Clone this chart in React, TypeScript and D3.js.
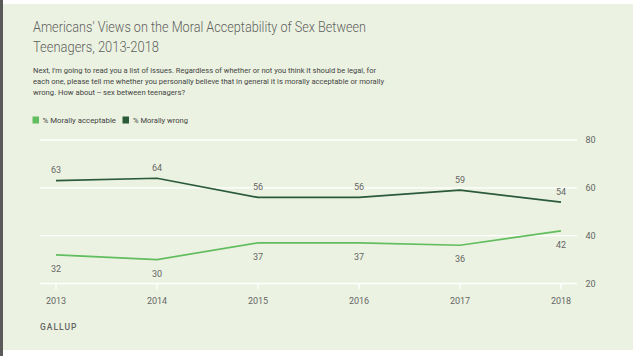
import React from "react";
import * as d3 from "d3";

const years = [2013, 2014, 2015, 2016, 2017, 2018];
const acceptable = [32, 30, 37, 37, 36, 42];
const wrong = [63, 64, 56, 56, 59, 54];
const yTicks = [20, 40, 60, 80];
const seriesNames = ["% Morally acceptable", "% Morally wrong"];
const title = [
  "Americans' Views on the Moral Acceptability of Sex Between",
  "Teenagers, 2013-2018",
];
const subtitle = [
  "Next, I'm going to read you a list of issues. Regardless of whether or not you think it should be legal, for",
  "each one, please tell me whether you personally believe that in general it is morally acceptable or morally",
  "wrong. How about -- sex between teenagers?",
];

const W = 633;
const H = 356;
const BG = "#ebf2e1";
const LIGHT = "#62bd5e";
const DARK = "#2b5a39";
const TXT = "#666";
const FONT = "Roboto, 'Open Sans', sans-serif";

export default function App() {
  const x = d3.scalePoint<number>().domain(years).range([56, 561]);
  const y = d3.scaleLinear().domain([20, 80]).range([283.5, 140]);
  const line = d3
    .line<number>()
    .x((_, i) => x(years[i]) as number)
    .y((d) => y(d));

  return (
    <svg
      width={W}
      height={H}
      style={{ position: "absolute", left: 0, top: 0, display: "block" }}
      fontFamily={FONT}
    >
      <rect x={0} y={0} width={W} height={H} fill="#fff" />
      <rect x={0} y={4} width={W} height={346} fill={BG} />
      <rect x={0} y={0} width={3} height={H} fill="#5a5a5a" />

      {title.map((t, i) => (
        <text
          key={i}
          x={33}
          y={31.5 + i * 20}
          fontSize={15.5}
          fill="#5f5f5f"
          fontWeight={300}
          textLength={i === 0 ? 333 : 126}
          lengthAdjust="spacingAndGlyphs"
        >
          {t}
        </text>
      ))}
      {subtitle.map((t, i) => (
        <text
          key={i}
          x={33}
          y={73 + i * 10.8}
          fontSize={7.8}
          fill="#444"
          textLength={i === 0 ? 343 : i === 1 ? 351 : 152}
          lengthAdjust="spacingAndGlyphs"
        >
          {t}
        </text>
      ))}

      {/* legend */}
      <rect x={32.5} y={116.5} width={6.5} height={7} fill={LIGHT} />
      <text x={42.5} y={123} fontSize={7.6} fill="#444" textLength={73.5} lengthAdjust="spacingAndGlyphs">
        {seriesNames[0]}
      </text>
      <rect x={122.5} y={116.5} width={6.5} height={7} fill={DARK} />
      <text x={133} y={123} fontSize={7.6} fill="#444" textLength={55} lengthAdjust="spacingAndGlyphs">
        {seriesNames[1]}
      </text>

      {/* gridlines */}
      {yTicks.map((t) => (
        <g key={t}>
          <line x1={40} x2={577} y1={y(t)} y2={y(t)} stroke="#fff" strokeWidth={1.3} />
          <text x={585.5} y={y(t) + 3.2} fontSize={9} fill={TXT}>
            {t}
          </text>
        </g>
      ))}

      {/* x ticks */}
      {years.map((yr) => (
        <g key={yr}>
          <line
            x1={x(yr)}
            x2={x(yr)}
            y1={y(20)}
            y2={y(20) + 6}
            stroke="#fff"
            strokeWidth={1.3}
          />
          <text x={x(yr)} y={304} fontSize={9} fill={TXT} textAnchor="middle">
            {yr}
          </text>
        </g>
      ))}

      <path d={line(wrong) || ""} fill="none" stroke={DARK} strokeWidth={1.7} />
      <path d={line(acceptable) || ""} fill="none" stroke={LIGHT} strokeWidth={1.7} />

      {wrong.map((v, i) => (
        <text
          key={"w" + i}
          x={x(years[i])}
          y={y(v) - 7.4}
          fontSize={9}
          fill={TXT}
          textAnchor="middle"
        >
          {v}
        </text>
      ))}
      {acceptable.map((v, i) => (
        <text
          key={"a" + i}
          x={x(years[i])}
          y={y(v) + 17.2}
          fontSize={9}
          fill={TXT}
          textAnchor="middle"
        >
          {v}
        </text>
      ))}

      <text x={40} y={330} fontSize={8.5} fill={TXT} letterSpacing={1} fontWeight={500}>
        GALLUP
      </text>
    </svg>
  );
}
